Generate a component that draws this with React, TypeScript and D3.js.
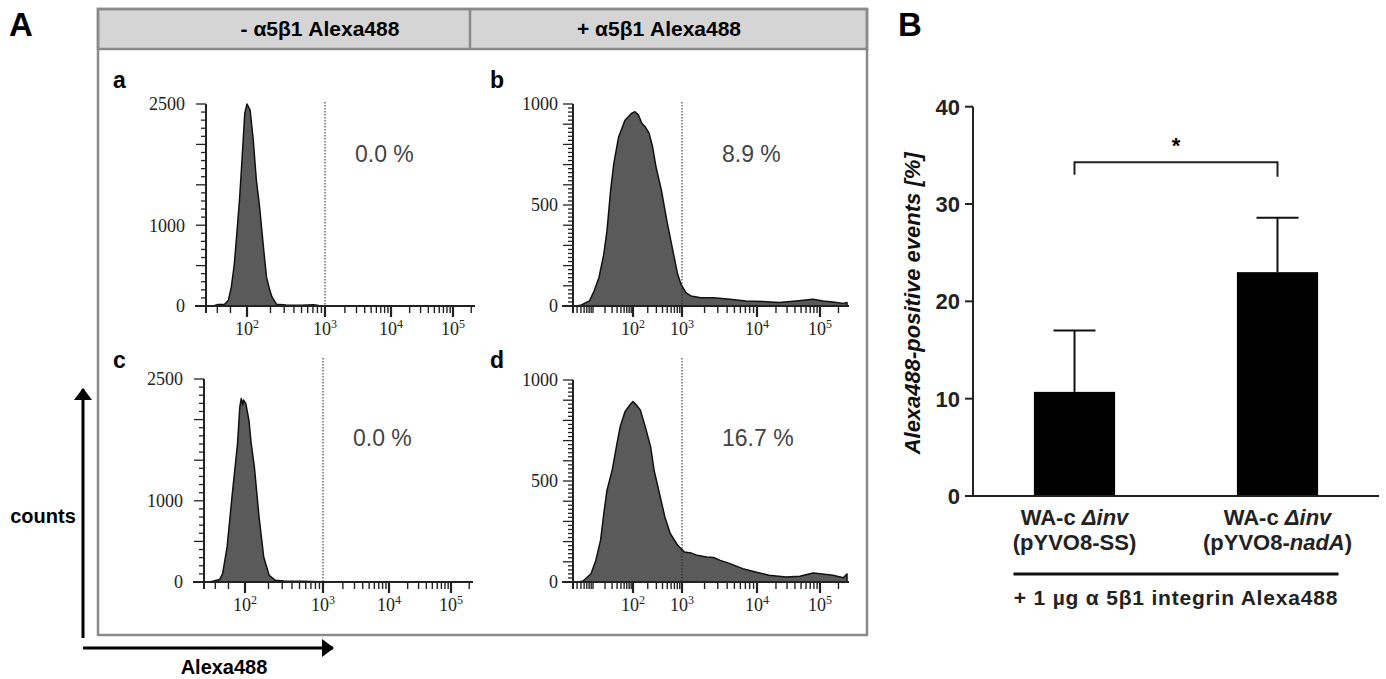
import { useEffect, useRef } from 'react';
import * as d3 from 'd3';

// flow cytometry traces: [log10 Alexa488 intensity, counts]
const histA = [[1.55, 0], [1.61, 20], [1.70, 22], [1.75, 70], [1.79, 236], [1.83, 520], [1.86, 855], [1.90, 1320], [1.93, 1764], [1.97, 2384], [2.00, 2500], [2.04, 2425], [2.08, 2054], [2.12, 1558], [2.16, 1240], [2.19, 938], [2.22, 640], [2.25, 360], [2.29, 200], [2.32, 112], [2.38, 21], [2.5, 12], [2.7, 8], [2.85, 15], [2.92, 6], [3.0, 4], [3.1, 0]];
const histB = [[0.6, 0], [0.71, 5], [0.91, 25], [1.03, 75], [1.15, 141], [1.27, 257], [1.35, 373], [1.44, 572], [1.52, 705], [1.64, 837], [1.80, 920], [1.96, 953], [2.04, 962], [2.11, 945], [2.18, 904], [2.25, 887], [2.33, 854], [2.40, 788], [2.47, 688], [2.58, 572], [2.69, 423], [2.80, 290], [2.91, 158], [2.98, 108], [3.05, 66], [3.12, 50], [3.25, 41], [3.42, 41], [3.64, 33], [3.85, 25], [4.09, 22], [4.35, 17], [4.62, 25], [4.89, 33], [5.05, 25], [5.21, 20], [5.38, 13], [5.44, 17]];
const histC = [[1.52, 0], [1.58, 12], [1.66, 30], [1.70, 103], [1.76, 432], [1.83, 1089], [1.90, 1706], [1.93, 2150], [1.95, 2260], [1.97, 2180], [1.98, 2240], [2.01, 2199], [2.05, 1993], [2.08, 1700], [2.12, 1418], [2.18, 801], [2.24, 308], [2.31, 82], [2.39, 21], [2.5, 12], [2.6, 8], [2.75, 10], [2.85, 6], [3.0, 3], [3.05, 0]];
const histD = [[0.65, 0], [0.75, 5], [0.95, 41], [1.07, 107], [1.19, 207], [1.27, 339], [1.35, 455], [1.48, 554], [1.60, 686], [1.68, 769], [1.80, 843], [1.92, 876], [2.00, 893], [2.07, 876], [2.15, 851], [2.25, 769], [2.36, 669], [2.43, 554], [2.54, 438], [2.65, 322], [2.76, 240], [2.91, 182], [3.03, 149], [3.12, 144], [3.20, 132], [3.33, 124], [3.42, 121], [3.51, 107], [3.64, 91], [3.81, 66], [3.98, 50], [4.19, 33], [4.46, 25], [4.68, 28], [4.89, 45], [5.00, 41], [5.21, 33], [5.38, 21], [5.44, 40]];

const panelLetters = ['a', 'b', 'c', 'd'];
const percentLabels = ['0.0 %', '8.9 %', '0.0 %', '16.7 %'];
const countMax = [2500, 1000, 2500, 1000];
const countLabelsAC = [0, 1000, 2500];
const countLabelsBD = [0, 500, 1000];
const decades = [2, 3, 4, 5];
const gateDecade = 3;
const headerLabels = ['- α5β1 Alexa488', '+ α5β1 Alexa488'];

// panel B
const strains = ['pYVO8-SS', 'pYVO8-nadA'];
const meanPositive = [10.7, 23.0];
const sdPositive = [6.3, 5.6];
const yTicksB = [0, 10, 20, 30, 40];

const SANS = 'Liberation Sans, Arial, sans-serif';
const SERIF = 'Liberation Serif, Times New Roman, serif';

export default function App() {
  const svgRef = useRef(null);

  useEffect(() => {
    const svg = d3.select(svgRef.current);
    svg.selectAll('*').remove();

    const defs = svg.append('defs');
    defs.append('marker')
      .attr('id', 'arrow')
      .attr('viewBox', '0 0 12 18')
      .attr('refX', 11).attr('refY', 9)
      .attr('markerWidth', 4).attr('markerHeight', 6)
      .attr('markerUnits', 'strokeWidth')
      .attr('orient', 'auto')
      .append('path').attr('d', 'M0,0 L12,9 L0,18 z').attr('fill', '#000');

    // ---------- panel A frame ----------
    svg.append('text').attr('x', 9).attr('y', 36).text('A')
      .attr('font-family', SANS).attr('font-weight', 'bold').attr('font-size', 33);

    svg.append('rect').attr('x', 98).attr('y', 9).attr('width', 769).attr('height', 40)
      .attr('fill', '#d5d5d5').attr('stroke', '#8a8a8a').attr('stroke-width', 2.5);
    svg.append('rect').attr('x', 98).attr('y', 9).attr('width', 769).attr('height', 626)
      .attr('fill', 'none').attr('stroke', '#8a8a8a').attr('stroke-width', 2.5);
    svg.append('line').attr('x1', 470).attr('x2', 470).attr('y1', 9).attr('y2', 49)
      .attr('stroke', '#8a8a8a').attr('stroke-width', 2.5);
    [320, 659].forEach((cx, i) => {
      svg.append('text').attr('x', cx).attr('y', 36).attr('text-anchor', 'middle')
        .attr('font-family', SANS).attr('font-weight', 'bold').attr('font-size', 21)
        .text(headerLabels[i]);
    });

    const acScale = d3.scaleLinear().domain([1.45, 2, 3, 4, 5, 5.33]).range([0, 41, 119, 185, 247, 267]);
    const bdScale = d3.scaleLinear().domain([0.5, 2, 3, 4, 5, 5.44]).range([0, 60, 109, 184, 247, 274]);

    const panels = [
      { data: histA, x0: 206, yTop: 104, yBottom: 306, scale: acScale, letterX: 113, letterY: 88, pctY: 162, gateTop: 102, labelGap: 21 },
      { data: histB, x0: 573, yTop: 104, yBottom: 306, scale: bdScale, letterX: 490, letterY: 88, pctY: 162, gateTop: 102, labelGap: 15 },
      { data: histC, x0: 204, yTop: 379, yBottom: 582, scale: acScale, letterX: 113, letterY: 368, pctY: 446, gateTop: 358, labelGap: 21 },
      { data: histD, x0: 573, yTop: 380, yBottom: 582, scale: bdScale, letterX: 490, letterY: 368, pctY: 446, gateTop: 358, labelGap: 15 }
    ];

    panels.forEach((p, i) => {
      const g = svg.append('g');
      const isAC = i % 2 === 0;
      const [lo, hi] = [p.scale.domain()[0], p.scale.domain()[5]];
      const x = (v) => p.x0 + p.scale(v);
      const y = d3.scaleLinear().domain([0, countMax[i]]).range([p.yBottom, p.yTop]);

      g.append('text').attr('x', p.letterX).attr('y', p.letterY).text(panelLetters[i])
        .attr('font-family', SANS).attr('font-weight', 'bold').attr('font-size', 23);

      // histogram
      const area = d3.area().x(d => x(d[0])).y0(y(0)).y1(d => y(d[1]));
      g.append('path').datum(p.data).attr('d', area)
        .attr('fill', '#5a5a5a').attr('stroke', '#111').attr('stroke-width', 1.5)
        .attr('stroke-linejoin', 'round');

      // y axis
      const minorStep = isAC ? 100 : 20;
      const midStep = isAC ? 500 : 100;
      g.append('line').attr('x1', p.x0).attr('x2', p.x0).attr('y1', p.yTop).attr('y2', p.yBottom + 7)
        .attr('stroke', '#222').attr('stroke-width', 2);
      d3.range(0, countMax[i] + 1, minorStep).forEach(v => {
        const len = v % midStep === 0 ? 10 : 5;
        g.append('line').attr('x1', p.x0 - len).attr('x2', p.x0).attr('y1', y(v)).attr('y2', y(v))
          .attr('stroke', '#222').attr('stroke-width', 1.3);
      });
      (isAC ? countLabelsAC : countLabelsBD).forEach(v => {
        g.append('text').attr('x', p.x0 - p.labelGap).attr('y', y(v)).attr('dy', '0.35em')
          .attr('text-anchor', 'end').attr('font-family', SERIF).attr('font-size', 18)
          .attr('fill', '#222').text(v);
      });

      // x axis
      g.append('line').attr('x1', p.x0 - 11).attr('x2', x(hi) + 2).attr('y1', p.yBottom).attr('y2', p.yBottom)
        .attr('stroke', '#222').attr('stroke-width', 2);
      const tickVals = [];
      d3.range(0, 6).forEach(d => {
        d3.range(1, 10).forEach(k => {
          const v = Math.log10(k * Math.pow(10, d));
          if (v < lo || v > hi) return;
          if (isAC && d < 2 && !(d === 1 && (k === 4 || k === 6))) return;
          tickVals.push({ v, major: k === 1 && decades.includes(d) });
        });
      });
      tickVals.forEach(t => {
        g.append('line').attr('x1', x(t.v)).attr('x2', x(t.v))
          .attr('y1', p.yBottom).attr('y2', p.yBottom + (t.major ? 11 : 7))
          .attr('stroke', '#222').attr('stroke-width', t.major ? 2.2 : 1.4);
      });
      decades.forEach(d => {
        const t = g.append('text').attr('x', x(d)).attr('y', p.yBottom + 29).attr('text-anchor', 'middle')
          .attr('font-family', SERIF).attr('font-size', 18).attr('fill', '#222');
        t.append('tspan').text('10');
        t.append('tspan').attr('dy', -7).attr('font-size', 12).text(d);
      });

      // gate
      g.append('line').attr('x1', x(gateDecade)).attr('x2', x(gateDecade))
        .attr('y1', p.gateTop).attr('y2', p.yBottom + 5)
        .attr('stroke', '#222').attr('stroke-width', 1).attr('stroke-dasharray', '1.5,1.5');

      g.append('text').attr('x', p.x0 + 149).attr('y', p.pctY).text(percentLabels[i])
        .attr('font-family', SANS).attr('font-size', 23).attr('fill', '#444');
    });

    // axis arrows
    svg.append('line').attr('x1', 83).attr('x2', 83).attr('y1', 638).attr('y2', 389)
      .attr('stroke', '#000').attr('stroke-width', 3).attr('marker-end', 'url(#arrow)');
    svg.append('line').attr('x1', 83).attr('x2', 333).attr('y1', 648).attr('y2', 648)
      .attr('stroke', '#000').attr('stroke-width', 3).attr('marker-end', 'url(#arrow)');
    svg.append('text').attr('x', 43).attr('y', 523).attr('text-anchor', 'middle').text('counts')
      .attr('font-family', SANS).attr('font-weight', 'bold').attr('font-size', 20);
    svg.append('text').attr('x', 224).attr('y', 674).attr('text-anchor', 'middle').text('Alexa488')
      .attr('font-family', SANS).attr('font-weight', 'bold').attr('font-size', 20);

    // ---------- panel B ----------
    svg.append('text').attr('x', 898).attr('y', 36).text('B')
      .attr('font-family', SANS).attr('font-weight', 'bold').attr('font-size', 33);

    const xB = d3.scaleBand().domain(strains).range([973, 1379]).paddingInner(0.6).paddingOuter(0.3);
    const yB = d3.scaleLinear().domain([0, 40]).range([496, 106.7]);
    const gB = svg.append('g');

    gB.selectAll('rect.bar').data(strains).join('rect')
      .attr('x', d => xB(d)).attr('width', xB.bandwidth())
      .attr('y', (d, i) => yB(meanPositive[i]))
      .attr('height', (d, i) => yB(0) - yB(meanPositive[i]))
      .attr('fill', '#000');

    strains.forEach((s, i) => {
      const cx = xB(s) + xB.bandwidth() / 2;
      gB.append('line').attr('x1', cx).attr('x2', cx)
        .attr('y1', yB(meanPositive[i])).attr('y2', yB(meanPositive[i] + sdPositive[i]))
        .attr('stroke', '#111').attr('stroke-width', 2);
      gB.append('line').attr('x1', cx - 21).attr('x2', cx + 21)
        .attr('y1', yB(meanPositive[i] + sdPositive[i])).attr('y2', yB(meanPositive[i] + sdPositive[i]))
        .attr('stroke', '#111').attr('stroke-width', 2);
    });

    gB.append('line').attr('x1', 973).attr('x2', 973).attr('y1', yB(0)).attr('y2', yB(40))
      .attr('stroke', '#222').attr('stroke-width', 2);
    gB.append('line').attr('x1', 965).attr('x2', 1379).attr('y1', yB(0)).attr('y2', yB(0))
      .attr('stroke', '#222').attr('stroke-width', 2);
    yTicksB.forEach(v => {
      gB.append('line').attr('x1', 965).attr('x2', 973).attr('y1', yB(v)).attr('y2', yB(v))
        .attr('stroke', '#222').attr('stroke-width', 2);
      gB.append('text').attr('x', 960).attr('y', yB(v)).attr('dy', '0.36em').attr('text-anchor', 'end')
        .attr('font-family', SANS).attr('font-weight', 'bold').attr('font-size', 22).attr('fill', '#222')
        .text(v);
    });

    svg.append('text')
      .attr('transform', `translate(920, ${(yB(0) + yB(40)) / 2 + 2}) rotate(-90)`)
      .attr('text-anchor', 'middle')
      .attr('font-family', SANS).attr('font-weight', 'bold').attr('font-style', 'italic')
      .attr('font-size', 22).attr('fill', '#111')
      .text('Alexa488-positive events [%]');

    // significance bracket
    const c1 = xB(strains[0]) + xB.bandwidth() / 2;
    const c2 = xB(strains[1]) + xB.bandwidth() / 2;
    gB.append('path')
      .attr('d', `M${c1},${yB(33.0)} V${yB(34.3)} H${c2} V${yB(32.8)}`)
      .attr('fill', 'none').attr('stroke', '#222').attr('stroke-width', 2);
    gB.append('text').attr('x', (c1 + c2) / 2).attr('y', yB(35.2)).attr('text-anchor', 'middle')
      .attr('font-family', SANS).attr('font-weight', 'bold').attr('font-size', 22).text('*');

    // category labels
    strains.forEach((s, i) => {
      const cx = xB(s) + xB.bandwidth() / 2;
      const t1 = gB.append('text').attr('x', cx).attr('y', 525).attr('text-anchor', 'middle')
        .attr('font-family', SANS).attr('font-weight', 'bold').attr('font-size', 22).attr('fill', '#222');
      t1.append('tspan').text('WA-c ');
      t1.append('tspan').attr('font-style', 'italic').text('Δinv');
      const t2 = gB.append('text').attr('x', cx).attr('y', 550).attr('text-anchor', 'middle')
        .attr('font-family', SANS).attr('font-weight', 'bold').attr('font-size', 22).attr('fill', '#222');
      const [pre, gene] = s.split('-');
      t2.append('tspan').text(`(${pre}-`);
      if (gene === 'SS') {
        t2.append('tspan').text('SS');
      } else {
        t2.append('tspan').attr('font-style', 'italic').text(gene);
      }
      t2.append('tspan').text(')');
    });

    gB.append('line').attr('x1', c1 - 61).attr('x2', c2 + 61).attr('y1', 574).attr('y2', 574)
      .attr('stroke', '#111').attr('stroke-width', 3);
    gB.append('text').attr('x', (c1 + c2) / 2).attr('y', 605).attr('text-anchor', 'middle')
      .attr('font-family', SANS).attr('font-weight', 'bold').attr('font-size', 21)
      .attr('letter-spacing', 0.8).attr('fill', '#222')
      .text('+ 1 µg α 5β1 integrin Alexa488');
  }, []);

  return (
    <svg
      ref={svgRef}
      width={1386}
      height={679}
      style={{ position: 'absolute', left: 0, top: 0, background: '#fff' }}
    ></svg>
  );
}
